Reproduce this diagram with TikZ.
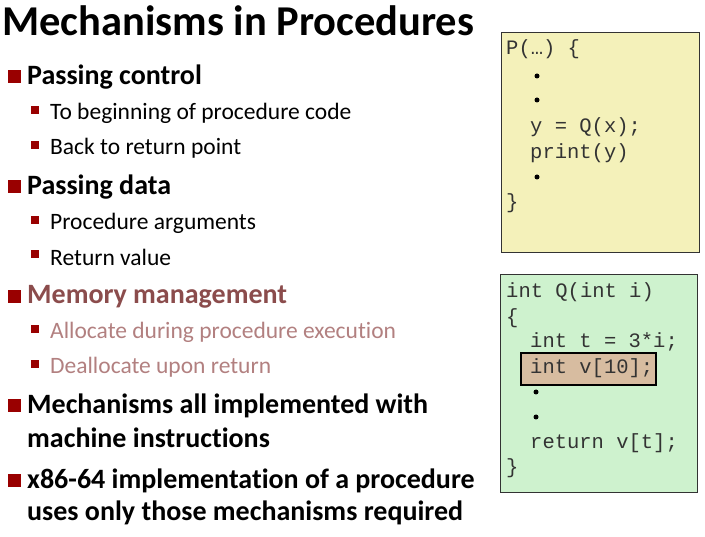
\documentclass[tikz,border=0pt]{standalone}
\usepackage{fontspec}
\setmainfont{Carlito}[Ligatures={NoCommon}]
\newfontfamily\codef{Liberation Mono}
\begin{document}
\begin{tikzpicture}[x=1pt,y=-1pt,
  t1/.style={anchor=west,font=\fontsize{28}{30}\selectfont\bfseries,inner sep=0},
  t2/.style={anchor=west,font=\fontsize{23.5}{26}\selectfont,inner sep=0},
  b1/.style={fill=red!60!black,minimum size=13,inner sep=0},
  b2/.style={fill=red!60!black,minimum size=8,inner sep=0},
  code/.style={anchor=west,font=\codef\fontsize{20.5}{22}\selectfont,text=black!80,inner sep=0},
  dot/.style={circle,fill=black,inner sep=0,minimum size=5}]
\useasboundingbox (0,0) rectangle (705,537);
\node[anchor=west,inner sep=0,font=\fontsize{42.5}{44}\selectfont\bfseries] (title) at (2,21) {Mechanisms in Procedures};
\colorlet{mm}{red!35!black!70}
\colorlet{mt}{red!40!black!50}
% level 1
\foreach \n/\y/\t/\c in {a/77/Passing control/black, b/187/Passing data/black, c/297/Memory management/mm, d/406/Mechanisms all implemented with/black, e/481/x86-64 implementation of a procedure/black}{
  \node[b1] (s\n) at (14,\y) {};
  \node[t1,text=\c] (l\n) at (27,\y) {\t};
}
\node[t1] (ld2) at (27,438) {machine instructions};
\node[t1] (le2) at (27,513) {uses only those mechanisms required};
% level 2
\foreach \n/\y/\t/\c in {a/113/To beginning of procedure code/black, b/148/Back to return point/black, c/223/Procedure arguments/black, d/257/Return value/black, e/332/Allocate during procedure execution/mt, f/367/Deallocate upon return/mt}{
  \node[b2] (q\n) at (35,\y-3) {};
  \node[t2,text=\c] (m\n) at (50,\y) {\t};
}
% P box
\draw[fill=yellow!25!white!95!black,draw=black!80,line width=0.8] (501,32) rectangle (699,252);
\node[code] (p1) at (506,49) {P(…) \{};
\node[dot] (pd1) at (537,76) {};
\node[dot] (pd2) at (537,100) {};
\node[code] (p2) at (530,127) {y = Q(x);};
\node[code] (p3) at (530,153) {print(y)};
\node[dot] (pd3) at (537,177) {};
\node[code] (p4) at (506,203) {\}};
% Q box
\draw[fill=green!15!white!95!black,draw=black!80,line width=0.8] (500,274) rectangle (697,492);
\draw[fill=brown!45!white!95!black,draw=black,line width=1.6] (521,353) rectangle (656,385);
\node[code] (q1) at (506,292) {int Q(int i)};
\node[code] (q2) at (506,318) {\{};
\node[code] (q3) at (530,342) {int t = 3*i;};
\node[code] (q4) at (530,368) {int v[10];};
\node[dot] (qd1) at (536,392) {};
\node[dot] (qd2) at (536,417) {};
\node[code] (q5) at (530,443) {return v[t];};
\node[code] (q6) at (506,468) {\}};
\end{tikzpicture}
\end{document}
